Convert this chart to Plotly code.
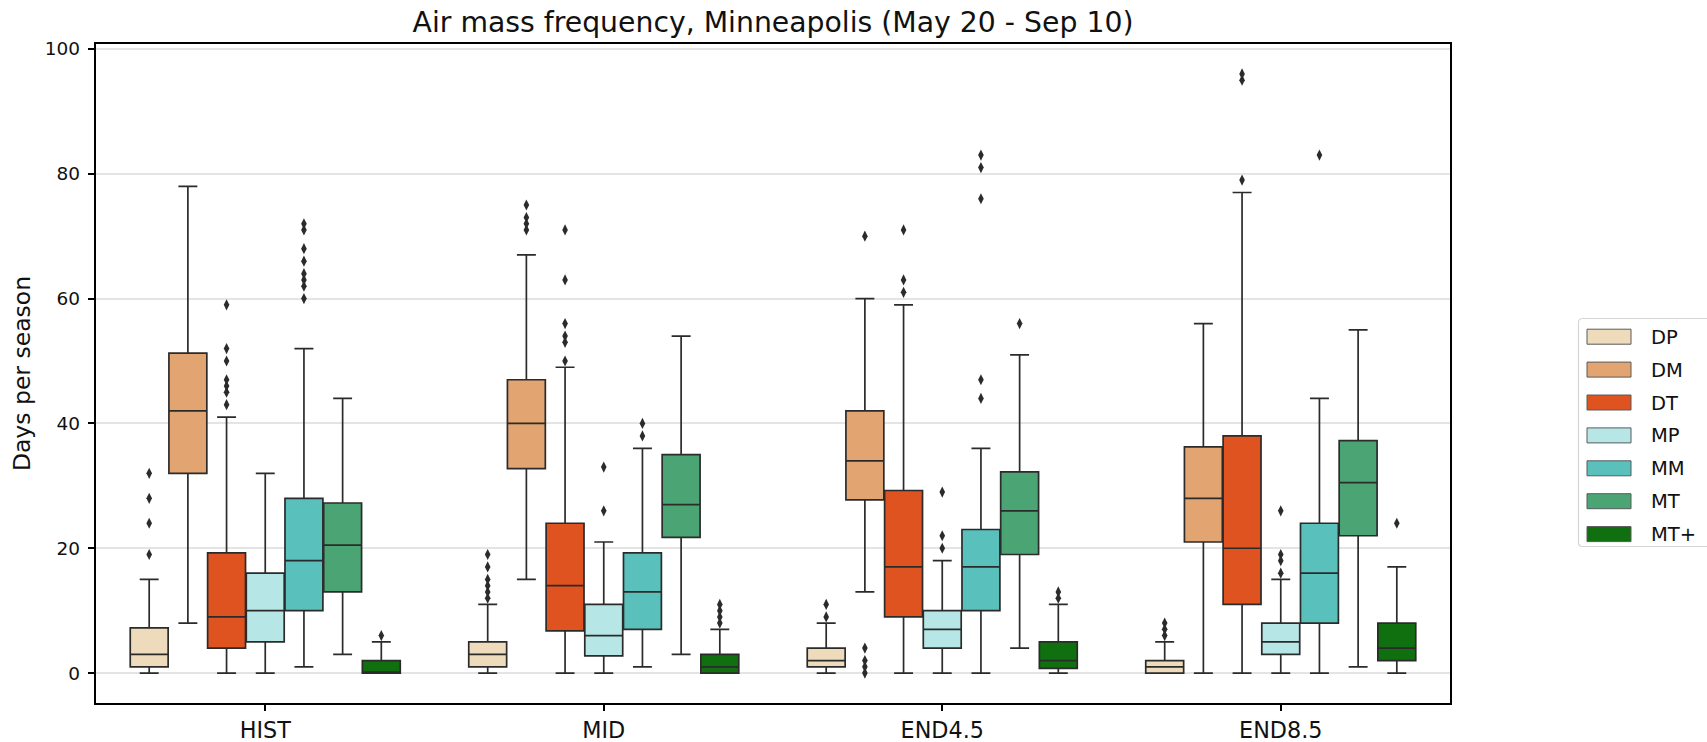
import plotly.graph_objects as go

# ---------------- data ----------------
categories = ["HIST", "MID", "END4.5", "END8.5"]
air_masses = ["DP", "DM", "DT", "MP", "MM", "MT", "MT+"]

dp_q1 = [1, 1, 1, 0]
dp_med = [3, 3, 2, 1]
dp_q3 = [7.25, 5, 4, 2]
dp_lo = [0, 0, 0, 0]
dp_hi = [15, 11, 8, 5]
dp_out = [[19, 24, 28, 32], [12, 13, 14, 15, 17, 19], [9, 11], [6, 7, 8]]

dm_q1 = [32, 32.75, 27.75, 21]
dm_med = [42, 40, 34, 28]
dm_q3 = [51.25, 47, 42, 36.25]
dm_lo = [8, 15, 13, 0]
dm_hi = [78, 67, 60, 56]
dm_out = [[], [71, 72, 73, 75], [0, 1, 2, 4, 70], []]

dt_q1 = [4, 6.75, 9, 11]
dt_med = [9, 14, 17, 20]
dt_q3 = [19.25, 24, 29.25, 38]
dt_lo = [0, 0, 0, 0]
dt_hi = [41, 49, 59, 77]
dt_out = [[43, 45, 46, 47, 50, 52, 59], [50, 53, 54, 56, 63, 71], [61, 63, 71], [79, 95, 96]]

mp_q1 = [5, 2.75, 4, 3]
mp_med = [10, 6, 7, 5]
mp_q3 = [16, 11, 10, 8]
mp_lo = [0, 0, 0, 0]
mp_hi = [32, 21, 18, 15]
mp_out = [[], [26, 33], [20, 22, 29], [16, 18, 19, 26]]

mm_q1 = [10, 7, 10, 8]
mm_med = [18, 13, 17, 16]
mm_q3 = [28, 19.25, 23, 24]
mm_lo = [1, 1, 0, 0]
mm_hi = [52, 36, 36, 44]
mm_out = [[60, 62, 63, 64, 66, 68, 71, 72], [38, 40], [44, 47, 76, 81, 83], [83]]

mt_q1 = [13, 21.75, 19, 22]
mt_med = [20.5, 27, 26, 30.5]
mt_q3 = [27.25, 35, 32.25, 37.25]
mt_lo = [3, 3, 4, 1]
mt_hi = [44, 54, 51, 55]
mt_out = [[], [], [56], []]

mtp_q1 = [0, 0, 0.75, 2]
mtp_med = [0, 1, 2, 4]
mtp_q3 = [2, 3, 5, 8]
mtp_lo = [0, 0, 0, 0]
mtp_hi = [5, 7, 11, 17]
mtp_out = [[6], [8, 9, 10, 11], [12, 13], [24]]

stats = [
    (dp_q1, dp_med, dp_q3, dp_lo, dp_hi, dp_out),
    (dm_q1, dm_med, dm_q3, dm_lo, dm_hi, dm_out),
    (dt_q1, dt_med, dt_q3, dt_lo, dt_hi, dt_out),
    (mp_q1, mp_med, mp_q3, mp_lo, mp_hi, mp_out),
    (mm_q1, mm_med, mm_q3, mm_lo, mm_hi, mm_out),
    (mt_q1, mt_med, mt_q3, mt_lo, mt_hi, mt_out),
    (mtp_q1, mtp_med, mtp_q3, mtp_lo, mtp_hi, mtp_out),
]

# ---------------- style ----------------
colors = ["#EDDBBB", "#E2A572", "#DF5320", "#B7E6E6", "#59C0BC", "#4BA473", "#107010"]
gray = "#2b2b2b"
FONT = "DejaVu Sans"
W, H = 1707, 742
L, R, T, B = 96, 1450, 44, 703  # plot area in px
GROUP_W = 0.8

fig = go.Figure()
n = len(air_masses)
pos = list(range(len(categories)))
for i, (name, st) in enumerate(zip(air_masses, stats)):
    q1, med, q3, lo, hi, out = st
    fig.add_trace(go.Box(
        x=pos, q1=q1, median=med, q3=q3, lowerfence=lo, upperfence=hi,
        name=name, fillcolor=colors[i], line=dict(color=gray, width=1.7),
        whiskerwidth=0.5, boxpoints=False, showlegend=False, hoverinfo="skip",
    ))
    ox, oy = [], []
    off = (i - (n - 1) / 2) * GROUP_W / n
    for c, vals in enumerate(out):
        for v in vals:
            ox.append(c + off)
            oy.append(v)
    fig.add_trace(go.Scatter(
        x=ox, y=oy, mode="markers", showlegend=False, hoverinfo="skip",
        marker=dict(symbol="diamond-tall", size=8, color=gray, line=dict(width=0)),
    ))

def px_x(px):
    return (px - L) / (R - L)

def px_y(py):
    return (B - py) / (B - T)

# custom legend (matplotlib-style)
shapes = []
annotations = []
lx0, lx1, ly0, ly1, rad = 1578.5, 1720, 318.5, 546.5, 4
path = (f"M {px_x(lx0 + rad)} {px_y(ly0)} L {px_x(lx1)} {px_y(ly0)} "
        f"L {px_x(lx1)} {px_y(ly1)} L {px_x(lx0 + rad)} {px_y(ly1)} "
        f"Q {px_x(lx0)} {px_y(ly1)} {px_x(lx0)} {px_y(ly1 - rad)} "
        f"L {px_x(lx0)} {px_y(ly0 + rad)} Q {px_x(lx0)} {px_y(ly0)} {px_x(lx0 + rad)} {px_y(ly0)}")
shapes.append(dict(type="path", xref="paper", yref="paper", path=path,
                   line=dict(color="#d5d5d5", width=1.2), fillcolor="white", layer="above"))
for k, name in enumerate(air_masses):
    cy = 336.7 + k * 32.9
    shapes.append(dict(type="rect", xref="paper", yref="paper",
                       x0=px_x(1587), x1=px_x(1631), y0=px_y(cy - 7.5), y1=px_y(cy + 7.5),
                       fillcolor=colors[k], line=dict(color="#5a5a5a", width=1), layer="above"))
    annotations.append(dict(xref="paper", yref="paper", x=px_x(1649), y=px_y(cy + 0.5),
                            xanchor="left", yanchor="middle", text=name, showarrow=False,
                            font=dict(family=FONT, size=19.5, color="#111")))

fig.update_layout(
    width=W, height=H,
    margin=dict(l=L, r=W - R, t=T, b=H - B, pad=0),
    paper_bgcolor="white", plot_bgcolor="white",
    boxmode="group", boxgap=1 - GROUP_W, boxgroupgap=0.02,
    font=dict(family=FONT, color="#111"),
    title=dict(text="Air mass frequency, Minneapolis (May 20 - Sep 10)",
               x=0.5, xref="paper", xanchor="center",
               y=1 - 22.5 / H, yref="container", yanchor="middle",
               font=dict(family=FONT, size=28.3, color="#111")),
    xaxis=dict(range=[-0.5, 3.5], tickvals=pos, ticktext=categories,
               showgrid=False, zeroline=False, showline=True, mirror=True,
               linecolor="black", linewidth=1.5, ticks="outside", ticklen=6.5,
               tickwidth=1.5, tickcolor="black", tickfont=dict(size=22.3, family=FONT, color="#111"),
               automargin=False),
    yaxis=dict(range=[-4.8, 100.8], tick0=0, dtick=20,
               showgrid=True, gridcolor="#e4e4e4", gridwidth=1.5, zeroline=False,
               showline=True, mirror=True, linecolor="black", linewidth=1.5,
               ticks="outside", ticklen=6.5, tickwidth=1.5, tickcolor="black",
               tickfont=dict(size=18.5, family=FONT, color="#111"),
               ticklabelstandoff=4,
               title=dict(text="Days per season", font=dict(size=23.5, family=FONT, color="#111"),
                          standoff=8),
               automargin=False),
    shapes=shapes, annotations=annotations,
)

fig.write_html("out.html")
